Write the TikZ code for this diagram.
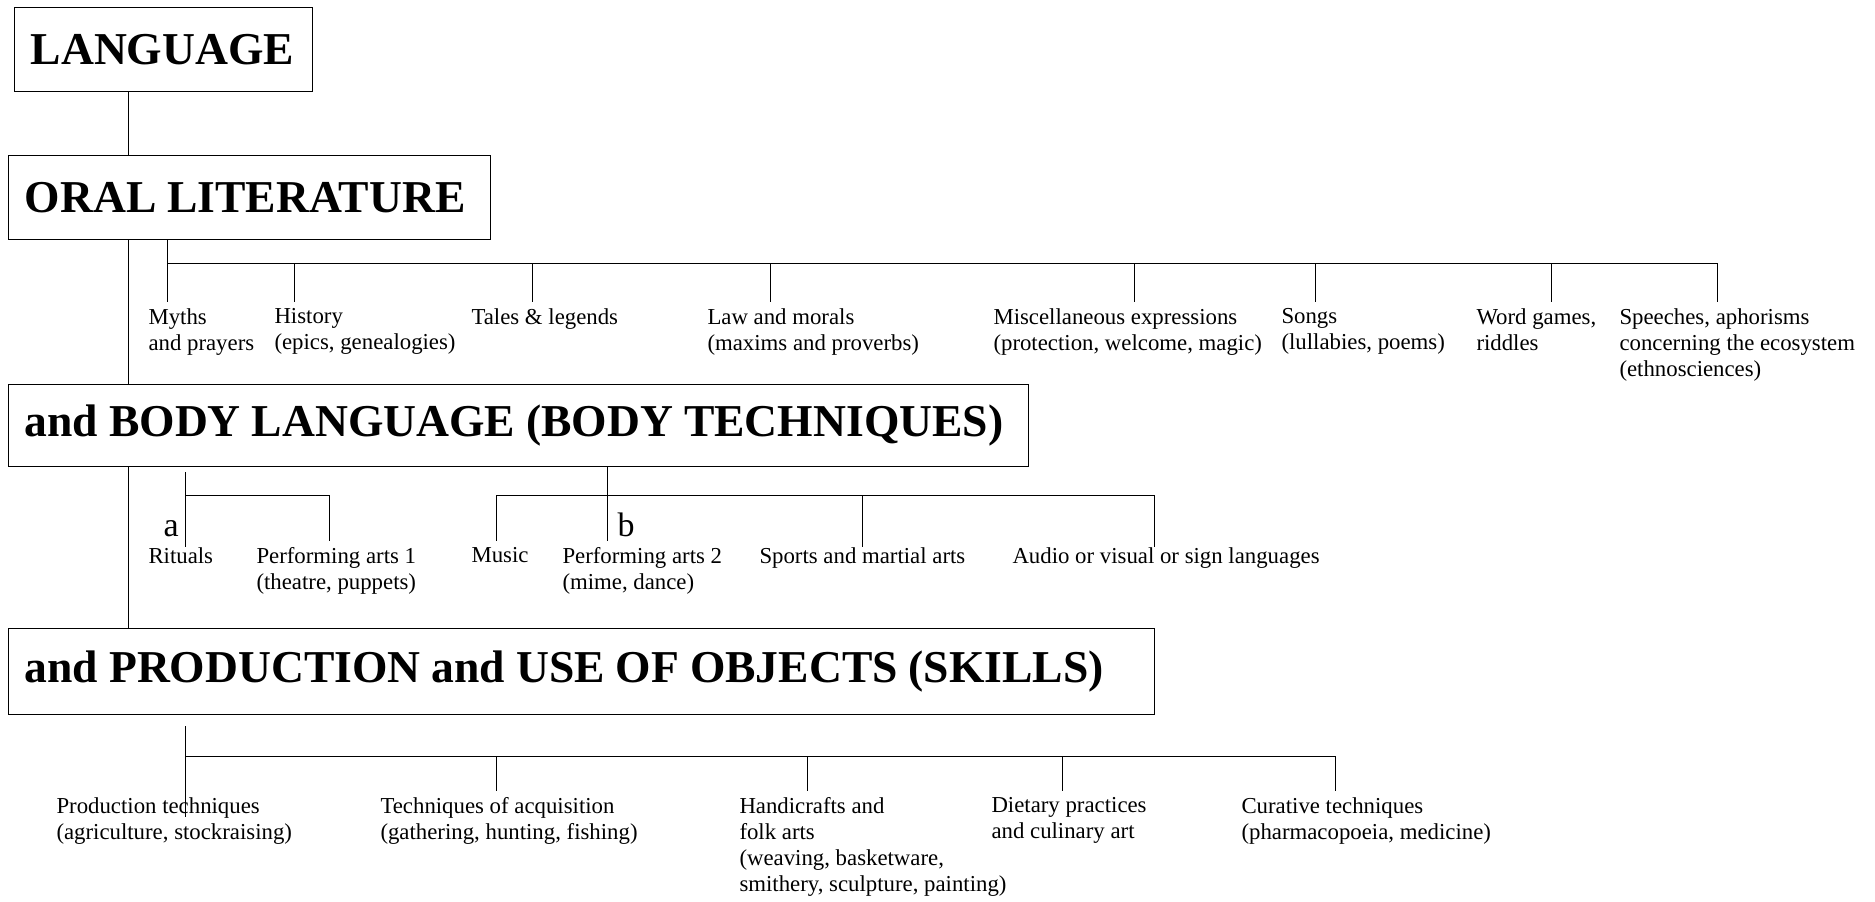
\documentclass[tikz,border=0pt]{standalone}
\usepackage{fontspec}
\setmainfont{Liberation Serif}
\newcommand\bigtitlefont{\fontsize{22.8}{27}\selectfont\bfseries}
\newcommand\boxtitle[1]{\mbox{\spaceskip=0.24em\relax #1}}

\begin{document}
\begin{tikzpicture}[x=0.5pt,y=-0.5pt,line width=0.5pt,
		titlebox/.style={draw,line width=0.7pt,anchor=north west,inner xsep=8pt,inner ysep=0pt,font=\bigtitlefont},
		lbl/.style={anchor=north west,inner sep=0pt,align=left,font=\fontsize{11.4}{13}\selectfont},
		tag/.style={anchor=base west,inner sep=0pt,font=\fontsize{17}{20}\selectfont},
		tick/.style={shorten >=3pt}]
		\useasboundingbox (0,0) rectangle (1875,901);
		
		\node[titlebox,text width=133pt,minimum height=42pt] (lang) at (14,7) {\boxtitle{LANGUAGE}};
		\node[titlebox,text width=225pt,minimum height=42pt] (oral) at (8,155) {\boxtitle{ORAL LITERATURE}};
		\node[titlebox,text width=494pt,minimum height=41pt] (body) at (8,384) {\boxtitle{and BODY LANGUAGE (BODY TECHNIQUES)}};
		\node[titlebox,text width=557pt,minimum height=43pt] (prod) at (8,628) {\boxtitle{and PRODUCTION and USE OF OBJECTS (SKILLS)}};
		
		\coordinate (sp) at (128,0);
		\draw (lang.south -| sp) -- (oral.north -| sp);
		\draw (oral.south -| sp) -- (body.north -| sp);
		\draw (body.south -| sp) -- (prod.north -| sp);
		
		\node[lbl] (myths)  at (148,308)  {Myths\\and prayers};
		\node[lbl] (hist)   at (274,308)  {History\\(epics, genealogies)};
		\node[lbl] (tales)  at (471,308)  {Tales \& legends};
		\node[lbl] (law)    at (707,308)  {Law and morals\\(maxims and proverbs)};
		\node[lbl] (misc)   at (993,308)  {Miscellaneous expressions\\(protection, welcome, magic)};
		\node[lbl] (songs)  at (1281,308) {Songs\\(lullabies, poems)};
		\node[lbl] (word)   at (1476,308) {Word games,\\riddles};
		\node[lbl] (speech) at (1619,308) {Speeches, aphorisms\\concerning the ecosystem\\(ethnosciences)};
		
		\coordinate (o1) at (167,263);
		\coordinate (o2) at (294,263);
		\coordinate (o3) at (532,263);
		\coordinate (o4) at (770,263);
		\coordinate (o5) at (1134,263);
		\coordinate (o6) at (1315,263);
		\coordinate (o7) at (1551,263);
		\coordinate (o8) at (1717,263);
		\draw (o1) -- (o8);
		\draw[tick] (oral.south -| o1) -- (o1 |- myths.north);
		\draw[tick] (o2) -- (o2 |- hist.north);
		\draw[tick] (o3) -- (o3 |- tales.north);
		\draw[tick] (o4) -- (o4 |- law.north);
		\draw[tick] (o5) -- (o5 |- misc.north);
		\draw[tick] (o6) -- (o6 |- songs.north);
		\draw[tick] (o7) -- (o7 |- word.north);
		\draw[tick] (o8) -- (o8 |- speech.north);
		
		\node[lbl] (rit)   at (148,547)  {Rituals};
		\node[lbl] (pa1)   at (256,547)  {Performing arts 1\\(theatre, puppets)};
		\node[lbl] (music) at (471,547)  {Music};
		\node[lbl] (pa2)   at (562,547)  {Performing arts 2\\(mime, dance)};
		\node[lbl] (sport) at (759,547)  {Sports and martial arts};
		\node[lbl] (audio) at (1012,547) {Audio or visual or sign languages};
		\node[tag] (ta) at (163,536) {a};
		\node[tag] (tb) at (617,536) {b};
		
		\coordinate (a1) at (185,472);
		\coordinate (a2) at (185,495);
		\coordinate (a3) at (329,495);
		\draw (a1) -- (a1 |- rit.north);
		\draw (a2) -- (a3);
		\draw[tick] (a3) -- (a3 |- pa1.north);
		
		\coordinate (b1) at (496,495);
		\coordinate (b2) at (607,495);
		\coordinate (b3) at (862,495);
		\coordinate (b4) at (1154,495);
		\draw (b1) -- (b4);
		\draw[tick] (body.south -| b2) -- (b2 |- pa2.north);
		\draw[tick] (b1) -- (b1 |- music.north);
		\draw (b3) -- (b3 |- sport.north);
		\draw (b4) -- (b4 |- audio.north);
		
		\node[lbl] (prodt) at (56,797)   {Production techniques\\(agriculture, stockraising)};
		\node[lbl] (acq)   at (380,797)  {Techniques of acquisition\\(gathering, hunting, fishing)};
		\node[lbl] (handi) at (739,797)  {Handicrafts and\\folk arts\\(weaving, basketware,\\smithery, sculpture, painting)};
		\node[lbl] (diet)  at (991,797)  {Dietary practices\\and culinary art};
		\node[lbl] (cure)  at (1241,797) {Curative techniques\\(pharmacopoeia, medicine)};
		
		\coordinate (p1) at (185,726);
		\coordinate (p2) at (185,756);
		\coordinate (p3) at (496,756);
		\coordinate (p4) at (807,756);
		\coordinate (p5) at (1062,756);
		\coordinate (p6) at (1335,756);
		\draw (p1) -- ([yshift=-10pt]p1 |- prodt.north);
		\draw (p2) -- (p6);
		\draw[tick] (p3) -- (p3 |- acq.north);
		\draw[tick] (p4) -- (p4 |- handi.north);
		\draw[tick] (p5) -- (p5 |- diet.north);
		\draw[tick] (p6) -- (p6 |- cure.north);
	\end{tikzpicture}
\end{document}
